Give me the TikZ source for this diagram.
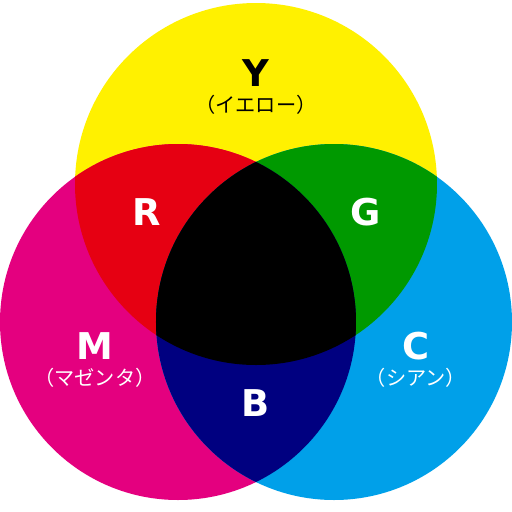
\documentclass[tikz,border=0pt]{standalone}
\usepackage{fontspec}
\setmainfont{Noto Sans CJK JP}
\newfontfamily\latinbold{DejaVu Sans}
\usetikzlibrary{positioning}
\definecolor{cmyY}{HTML}{FFF100}
\definecolor{cmyM}{HTML}{E4007F}
\definecolor{cmyC}{HTML}{00A0E9}
\definecolor{rgbR}{HTML}{E60012}
\definecolor{rgbG}{HTML}{009900}
\definecolor{rgbB}{HTML}{000080}

\begin{document}
\begin{tikzpicture}[
                x=0.02cm, y=-0.02cm,
                big/.style={font=\fontsize{21}{21}\selectfont\latinbold\bfseries, inner sep=0pt},
                sub/.style={font=\fontsize{11.5}{12}\selectfont, inner sep=0pt}
            ]

\useasboundingbox (0,0) rectangle (512,512);

% three circles
\fill[cmyY] (256,184) circle (181);
\fill[cmyM] (178,322) circle (178);
\fill[cmyC] (334,322) circle (178);

% two-way overlaps
\begin{scope}
  \clip (256,184) circle (181);
  \fill[rgbR] (178,322) circle (178);
\end{scope}
\begin{scope}
  \clip (256,184) circle (181);
  \fill[rgbG] (334,322) circle (178);
\end{scope}
\begin{scope}
  \clip (178,322) circle (178);
  \fill[rgbB] (334,322) circle (178);
\end{scope}

% center
\begin{scope}
  \clip (256,184) circle (181);
  \clip (178,322) circle (178);
  \fill[black] (334,322) circle (178);
\end{scope}

\node[big] (y) at (256,73) {Y};
\node[sub, below=4.5pt of y] (yname) {（イエロー）};
\node[big, white] (m) at (95,346) {M};
\node[sub, white, below=4.5pt of m] (mname) {（マゼンタ）};
\node[big, white] (c) at (416,346) {C};
\node[sub, white, below=4.5pt of c] (cname) {（シアン）};

\node[big, white] (r) at (147,212) {R};
\node[big, white] (g) at (366,212) {G};
\node[big, white] (b) at (256,403) {B};

\end{tikzpicture}
\end{document}
